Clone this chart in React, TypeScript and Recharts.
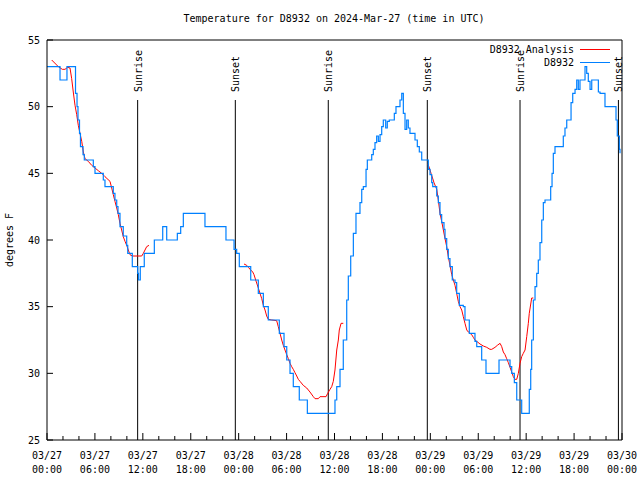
import React from 'react';
import { LineChart, Line, XAxis, YAxis, ReferenceLine, Legend } from 'recharts';

const FONT = '"DejaVu Sans Mono", "Liberation Mono", monospace';

// hours since 03/27 00:00 UTC, degrees F
const observed: [number, number][] = [
  [0, 53], [1.63, 52], [2.5, 53], [3.57, 51], [3.76, 50], [3.88, 49], [4.07, 48], [4.19, 47],
  [4.51, 46.4], [4.67, 46], [5.8, 45.5], [6.01, 45], [7.05, 44.5], [7.26, 44], [8.3, 43.5],
  [8.51, 43], [8.73, 42.5], [8.89, 42], [9.14, 41], [9.55, 40.3], [9.98, 39.6], [10.11, 39],
  [10.68, 38], [11.36, 37.5], [11.46, 37], [11.68, 38], [12.18, 39], [13.44, 40], [14.49, 41],
  [14.99, 40], [16.32, 40.5], [16.74, 41], [17.07, 42], [19.78, 41], [22.41, 40], [23.42, 39.3],
  [23.75, 39], [24.08, 38], [25.51, 37], [26.46, 36], [27.09, 35], [27.71, 34], [29.09, 33],
  [29.68, 32], [30.02, 31], [30.43, 30], [30.84, 29], [31.59, 28], [32.6, 27], [36.06, 28],
  [36.28, 29], [36.69, 30.3], [37.1, 32.5], [37.53, 35.5], [37.73, 37.3], [38.03, 38.8],
  [38.36, 40.5], [38.69, 42], [39.19, 42.8], [39.41, 43.8], [39.61, 44], [39.95, 45.3],
  [40.11, 46], [40.66, 46.4], [40.86, 46.8], [41.07, 47.3], [41.28, 47.8], [41.49, 47.4],
  [41.7, 47.9], [41.91, 48.5], [42.11, 49], [42.41, 48.4], [42.61, 48.9], [42.86, 49],
  [43.49, 49.5], [43.7, 50], [44.2, 50.5], [44.42, 51], [44.62, 49.5], [44.83, 48.3],
  [45.04, 49], [45.24, 48.4], [45.45, 48], [46.08, 47.5], [46.37, 47], [46.62, 46.6],
  [46.92, 46], [47.75, 45.3], [47.96, 44.9], [48.17, 44.3], [48.3, 44], [48.8, 43.3],
  [49.0, 42.8], [49.21, 41.9], [49.42, 41.3], [49.71, 40.8], [49.84, 40.1], [50.05, 39.3],
  [50.25, 38.6], [50.46, 38], [50.75, 37], [51.09, 36.8], [51.3, 36], [51.63, 35.1],
  [52.13, 35], [52.34, 34], [52.88, 33], [53.59, 32.4], [53.81, 32], [54.43, 31], [54.97, 30],
  [56.6, 31], [57.98, 30.5], [58.19, 30], [58.52, 29.3], [58.82, 28], [59.44, 27],
  [60.39, 28.8], [60.57, 30.3], [60.69, 32.5], [60.9, 35.5], [61.11, 36.5], [61.32, 37.5],
  [61.52, 38.5], [61.73, 39.8], [61.95, 41.5], [62.15, 42.8], [62.36, 43], [63.07, 44],
  [63.24, 45], [63.4, 46.5], [63.61, 47], [64.65, 47.8], [64.86, 48.4], [65.08, 49],
  [65.62, 50.3], [65.83, 51], [66.12, 51.3], [66.33, 52], [66.53, 51.3], [66.74, 52],
  [67.37, 53], [67.58, 52.5], [67.78, 51.9], [68.0, 51.3], [68.21, 52], [69.04, 51.1],
  [69.25, 51], [69.87, 50], [71.25, 49], [71.41, 47.8], [71.67, 46.8], [71.75, 46.5],
];

const analysisDay1: [number, number][] = [
  [0.59, 53.5], [1.42, 53.0], [1.92, 52.8], [2.25, 52.8], [2.59, 52.95], [2.88, 52.9],
  [3.09, 52.1], [3.29, 51.1], [3.51, 50.1], [3.72, 49.4], [3.92, 48.6], [4.13, 48.0],
  [4.35, 47.4], [4.55, 46.6], [4.76, 46.1], [5.17, 45.9], [5.6, 45.6], [6.01, 45.4],
  [6.42, 45.2], [6.85, 45.0], [7.26, 44.75], [7.89, 44.4], [8.1, 43.9], [8.3, 43.4],
  [8.51, 42.9], [8.73, 42.4], [8.93, 41.9], [9.14, 41.25], [9.35, 40.75], [9.55, 40.25],
  [9.77, 39.9], [9.98, 39.6], [10.18, 39.25], [10.39, 38.9], [10.68, 38.8], [11.86, 38.8],
  [12.06, 39.0], [12.27, 39.25], [12.48, 39.5], [12.77, 39.6],
];

const analysisDay2: [number, number][] = [
  [24.67, 38.2], [25.01, 38.1], [25.21, 37.95], [25.51, 37.75], [25.76, 37.6], [25.92, 37.4],
  [26.13, 37.0], [26.46, 36.4], [26.67, 36.0], [26.89, 35.6], [27.09, 35.1], [27.3, 34.75],
  [27.51, 34.3], [27.71, 34.05], [28.14, 34.0], [28.76, 33.95], [28.96, 33.5], [29.18, 33.0],
  [29.39, 32.5], [29.59, 32.1], [29.8, 31.75], [30.02, 31.4], [30.22, 31.1], [30.43, 30.75],
  [30.64, 30.5], [30.84, 30.3], [31.05, 30.05], [31.27, 29.8], [31.47, 29.55], [31.68, 29.4],
  [32.09, 29.1], [32.52, 28.9], [32.93, 28.6], [33.35, 28.25], [33.56, 28.1], [33.97, 28.1],
  [34.19, 28.25], [34.94, 28.25], [35.15, 28.5], [35.44, 28.8], [35.65, 29.0], [35.85, 29.4],
  [36.06, 30.25], [36.28, 31.75], [36.48, 32.5], [36.6, 33.25], [36.82, 33.75], [37.1, 33.75],
];

const analysisDay3: [number, number][] = [
  [47.71, 45.7], [48.09, 45.0], [48.46, 44.3], [48.8, 43.8], [49.0, 43.0], [49.21, 42.0],
  [49.42, 41.4], [49.63, 40.75], [49.84, 40.1], [50.05, 39.5], [50.25, 38.75], [50.46, 38.1],
  [50.68, 37.4], [50.88, 37.0], [51.09, 36.6], [51.3, 36.0], [51.5, 35.4], [51.72, 35.0],
  [51.93, 34.75], [52.13, 34.25], [52.34, 33.75], [52.56, 33.25], [52.76, 33.1], [52.97, 33.0],
  [53.18, 32.9], [53.38, 32.7], [53.59, 32.5], [53.81, 32.4], [54.22, 32.2], [54.64, 32.05],
  [55.06, 31.95], [55.47, 31.8], [55.69, 31.8], [56.1, 31.95], [56.39, 32.1], [56.73, 32.25],
  [56.94, 32.0], [57.14, 31.6], [57.35, 31.4], [57.56, 31.1], [57.77, 30.8], [57.98, 30.45],
  [58.19, 30.1], [58.39, 29.75], [58.6, 29.55], [58.82, 29.55], [59.02, 30.0], [59.23, 30.75],
  [59.44, 31.25], [59.64, 31.5], [59.86, 31.75], [60.07, 32.75], [60.27, 33.75], [60.39, 34.5],
  [60.69, 35.65], [60.9, 35.65],
];

const sunEvents = [
  { t: 11.35, name: 'Sunrise' },
  { t: 23.58, name: 'Sunset' },
  { t: 35.22, name: 'Sunrise' },
  { t: 47.62, name: 'Sunset' },
  { t: 59.23, name: 'Sunrise' },
  { t: 71.55, name: 'Sunset' },
];

const seriesNames = ['D8932 Analysis', 'D8932'];
const seriesColors = ['#ff0000', '#0080ff'];

const yTicks = [25, 30, 35, 40, 45, 50, 55];
const xTicks = [0, 2, 4, 6, 8, 10, 12, 14, 16, 18, 20, 22, 24, 26, 28, 30, 32, 34, 36, 38, 40, 42, 44, 46, 48, 50, 52, 54, 56, 58, 60, 62, 64, 66, 68, 70, 72];
const dateLabels = ['03/27', '03/27', '03/27', '03/27', '03/28', '03/28', '03/28', '03/28', '03/29', '03/29', '03/29', '03/29', '03/30'];
const timeLabels = ['00:00', '06:00', '12:00', '18:00', '00:00', '06:00', '12:00', '18:00', '00:00', '06:00', '12:00', '18:00', '00:00'];

const obsData = observed.map(([t, v]) => ({ t, v }));
const toPts = (seg: [number, number][]) => seg.map(([t, v]) => ({ t, v }));
const gap = (seg: [number, number][]) => ({ t: seg[seg.length - 1][0] + 0.01, v: null });
const anaData = [
  ...toPts(analysisDay1), gap(analysisDay1),
  ...toPts(analysisDay2), gap(analysisDay2),
  ...toPts(analysisDay3),
];

const textStyle = { fontFamily: FONT, fontSize: 10, fill: '#000' };

const LeftTick = ({ x, y, payload }: any) => (
  <g>
    <line x1={x} y1={y} x2={x + 6} y2={y} stroke="#000" />
    <text x={x - 7} y={y} dy={3.5} textAnchor="end" style={textStyle}>{payload.value}</text>
  </g>
);

const RightTick = ({ x, y }: any) => <line x1={x - 6} y1={y} x2={x} y2={y} stroke="#000" />;

const BottomTick = ({ x, y, payload }: any) => {
  const major = payload.value % 6 === 0;
  const i = payload.value / 6;
  return (
    <g>
      <line x1={x} y1={y} x2={x} y2={y - (major ? 7 : 4)} stroke="#000" />
      {major && (
        <text x={x} y={y} textAnchor="middle" style={textStyle}>
          <tspan x={x} dy={19}>{dateLabels[i]}</tspan>
          <tspan x={x} dy={14}>{timeLabels[i]}</tspan>
        </text>
      )}
    </g>
  );
};

const TopTick = ({ x, y, payload }: any) => {
  const major = payload.value % 6 === 0;
  return <line x1={x} y1={y} x2={x} y2={y + (major ? 7 : 4)} stroke="#000" />;
};

const sunLabel = (name: string) => (props: any) => {
  const vb = props.viewBox;
  const lx = vb.x + 4;
  const ly = vb.y - 8;
  return (
    <text x={lx} y={ly} transform={`rotate(-90 ${lx} ${ly})`} style={textStyle}>{name}</text>
  );
};

const yLabel = (props: any) => {
  const vb = props.viewBox;
  const lx = 13;
  const ly = vb.y + vb.height / 2;
  return (
    <text x={lx} y={ly} transform={`rotate(-90 ${lx} ${ly})`} textAnchor="middle" style={textStyle}>degrees F</text>
  );
};

const LegendContent = () => (
  <div style={{ fontFamily: FONT, fontSize: 10, color: '#000' }}>
    {seriesNames.map((name, i) => (
      <div key={name} style={{ display: 'flex', justifyContent: 'flex-end', alignItems: 'center', height: 13 }}>
        <span>{name}</span>
        <span style={{ display: 'inline-block', width: 30, height: 0, borderTop: `1px solid ${seriesColors[i]}`, marginLeft: 6 }} />
      </div>
    ))}
  </div>
);

export default function App() {
  return (
    <div style={{ position: 'absolute', left: 0, top: 0, width: 640, height: 480, background: '#fff' }}>
      <div style={{ position: 'absolute', left: 134, top: 13, width: 400, textAlign: 'center', fontFamily: FONT, fontSize: 10, lineHeight: '12px' }}>
        Temperature for D8932 on 2024-Mar-27 (time in UTC)
      </div>
      <LineChart width={640} height={480} margin={{ top: 0, right: 0, bottom: 0, left: 0 }}>
        <XAxis
          dataKey="t"
          type="number"
          domain={[0, 72]}
          ticks={xTicks}
          interval={0}
          height={40}
          tickSize={0}
          tickMargin={0}
          tickLine={false}
          axisLine={{ stroke: '#000' }}
          tick={<BottomTick />}
          allowDataOverflow
        />
        <XAxis
          xAxisId="top"
          orientation="top"
          type="number"
          domain={[0, 72]}
          ticks={xTicks}
          interval={0}
          height={40}
          tickSize={0}
          tickMargin={0}
          tickLine={false}
          axisLine={{ stroke: '#000' }}
          tick={<TopTick />}
        />
        <YAxis
          type="number"
          domain={[25, 55]}
          ticks={yTicks}
          interval={0}
          width={47}
          tickSize={0}
          tickMargin={0}
          tickLine={false}
          axisLine={{ stroke: '#000' }}
          tick={<LeftTick />}
          label={yLabel}
          allowDataOverflow
        />
        <YAxis
          yAxisId="r"
          orientation="right"
          type="number"
          domain={[25, 55]}
          ticks={yTicks}
          interval={0}
          width={18}
          tickSize={0}
          tickMargin={0}
          tickLine={false}
          axisLine={{ stroke: '#000' }}
          tick={<RightTick />}
        />
        {sunEvents.map((e, i) => (
          <ReferenceLine
            key={i}
            segment={[{ x: e.t, y: 25 }, { x: e.t, y: 50.5 }]}
            stroke="#000"
            strokeWidth={1}
            label={sunLabel(e.name)}
          />
        ))}
        <Legend
          layout="vertical"
          align="center"
          verticalAlign="middle"
          content={<LegendContent />}
          wrapperStyle={{ top: 43, left: 440, width: 170 }}
        />
        <Line
          name={seriesNames[0]}
          data={anaData}
          dataKey="v"
          type="linear"
          stroke={seriesColors[0]}
          strokeWidth={1}
          dot={false}
          connectNulls={false}
          isAnimationActive={false}
        />
        <Line
          name={seriesNames[1]}
          data={obsData}
          dataKey="v"
          type="stepAfter"
          stroke={seriesColors[1]}
          strokeWidth={1.2}
          dot={false}
          isAnimationActive={false}
        />
      </LineChart>
    </div>
  );
}
